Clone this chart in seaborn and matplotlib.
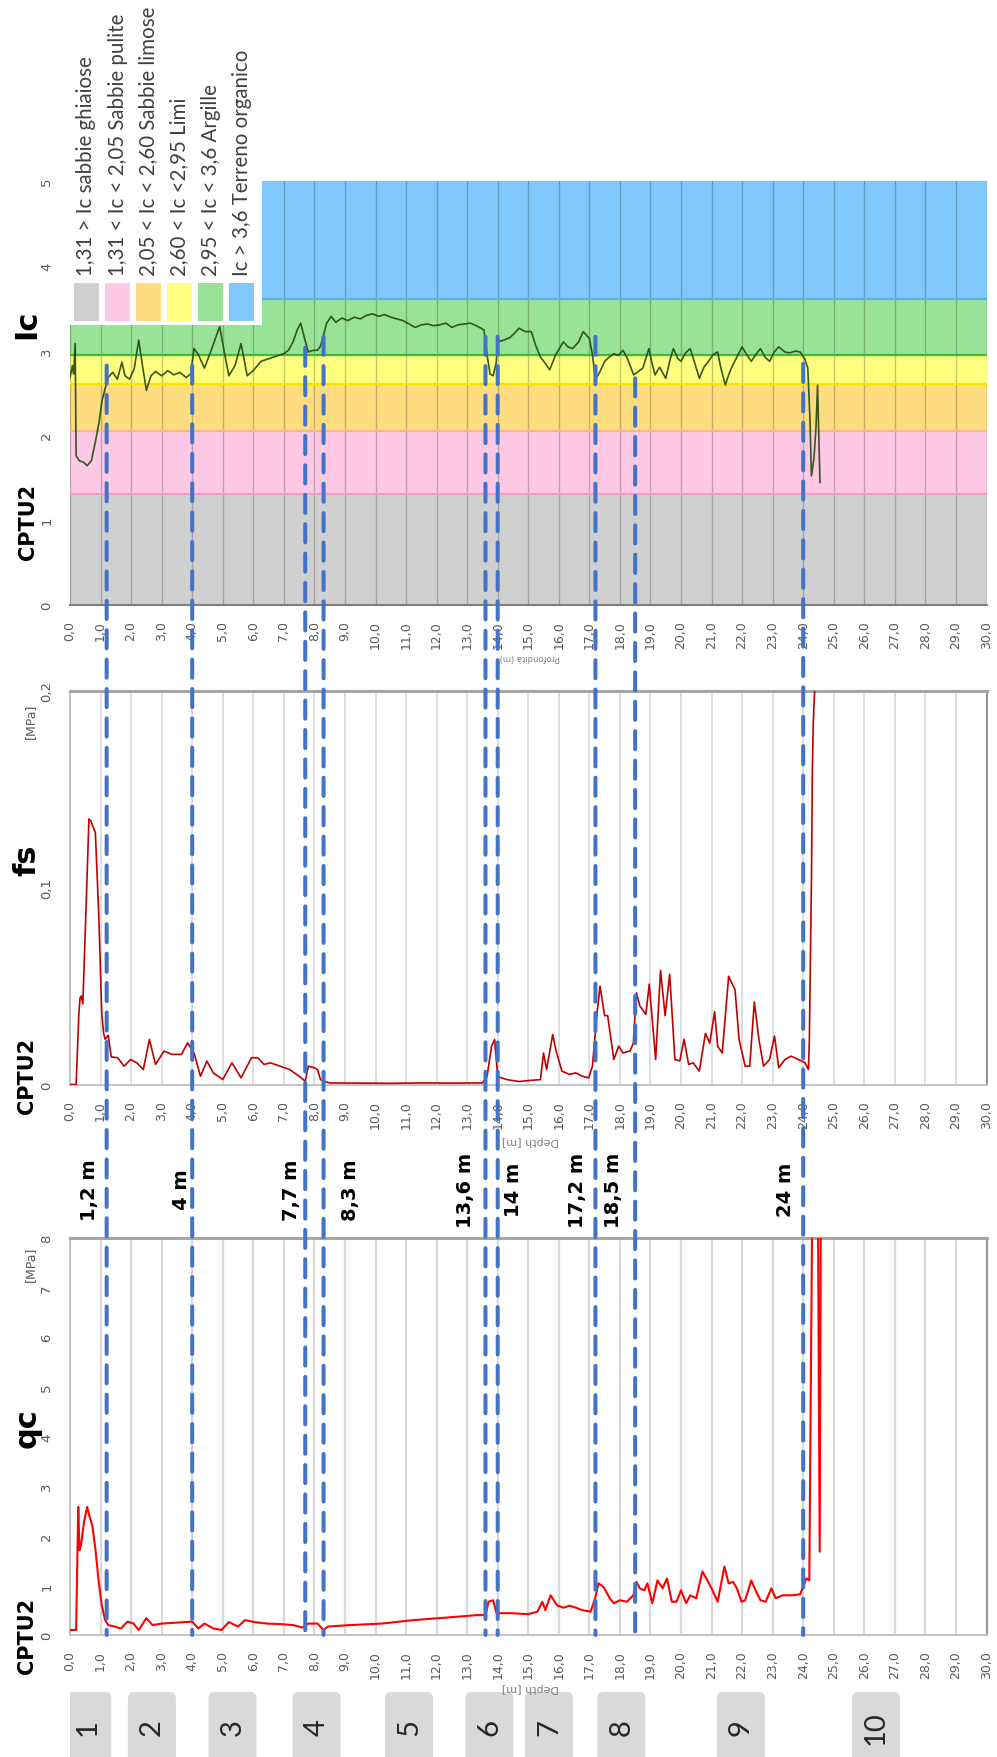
import numpy as np
import matplotlib
matplotlib.use("Agg")
import matplotlib.pyplot as plt
import seaborn as sns
from matplotlib.patches import Rectangle, FancyBboxPatch, ConnectionPatch

# ---------------------------------------------------------------- data
# Behaviour index Ic (CPTU2)
ic_depth = [0.0, 0.08, 0.12, 0.17, 0.2, 0.3, 0.45, 0.56, 0.7, 0.83, 0.95, 1.04, 1.15, 1.25,
            1.4, 1.55, 1.7, 1.8, 1.95, 2.1, 2.25, 2.38, 2.5, 2.65, 2.8, 3.0, 3.2, 3.4, 3.6,
            3.8, 3.95, 4.06, 4.2, 4.4, 4.6, 4.9, 5.05, 5.2, 5.4, 5.6, 5.8, 6.0, 6.25, 6.5,
            6.75, 7.0, 7.15, 7.3, 7.45, 7.55, 7.65, 7.8, 7.95, 8.1, 8.2, 8.3, 8.4, 8.55,
            8.7, 8.9, 9.1, 9.3, 9.5, 9.7, 9.9, 10.1, 10.3, 10.5, 10.7, 10.9, 11.1, 11.3,
            11.5, 11.7, 11.9, 12.1, 12.3, 12.5, 12.7, 12.9, 13.1, 13.3, 13.5, 13.55, 13.65,
            13.75, 13.85, 13.95, 14.0, 14.2, 14.4, 14.55, 14.7, 14.9, 15.1, 15.25, 15.4,
            15.55, 15.7, 15.9, 16.15, 16.3, 16.45, 16.65, 16.8, 17.0, 17.1, 17.2, 17.35,
            17.5, 17.65, 17.8, 17.95, 18.1, 18.25, 18.45, 18.6, 18.75, 18.95, 19.05, 19.15,
            19.3, 19.5, 19.65, 19.75, 19.9, 20.0, 20.15, 20.3, 20.45, 20.6, 20.75, 20.9,
            21.05, 21.2, 21.3, 21.45, 21.55, 21.65, 21.8, 22.0, 22.15, 22.3, 22.45, 22.6,
            22.75, 22.9, 23.05, 23.2, 23.4, 23.55, 23.75, 23.9, 24.05, 24.15, 24.22, 24.27,
            24.35, 24.42, 24.47, 24.55]
ic_value = [2.68, 2.82, 2.72, 3.08, 1.76, 1.70, 1.68, 1.64, 1.70, 1.92, 2.15, 2.39, 2.55, 2.68,
            2.74, 2.66, 2.86, 2.70, 2.66, 2.78, 3.12, 2.80, 2.53, 2.70, 2.75, 2.70, 2.76, 2.71,
            2.74, 2.68, 2.72, 3.02, 2.95, 2.79, 2.98, 3.28, 2.98, 2.70, 2.82, 3.08, 2.70, 2.76,
            2.87, 2.90, 2.93, 2.96, 3.00, 3.10, 3.25, 3.32, 3.18, 2.98, 3.00, 3.00, 3.05, 3.18,
            3.32, 3.40, 3.33, 3.38, 3.35, 3.39, 3.37, 3.41, 3.43, 3.40, 3.42, 3.39, 3.37, 3.35,
            3.31, 3.27, 3.30, 3.31, 3.29, 3.30, 3.32, 3.27, 3.30, 3.31, 3.32, 3.29, 3.25, 3.24,
            2.95, 2.72, 2.70, 2.85, 3.10, 3.12, 3.15, 3.20, 3.26, 3.22, 3.22, 3.05, 2.92, 2.85,
            2.77, 2.95, 3.10, 3.04, 3.02, 3.10, 3.22, 3.14, 2.95, 2.66, 2.75, 2.87, 2.92, 2.96,
            2.94, 3.00, 2.90, 2.71, 2.75, 2.79, 3.02, 2.85, 2.71, 2.80, 2.67, 2.90, 3.02, 2.90,
            2.87, 2.97, 3.02, 2.85, 2.67, 2.80, 2.87, 2.95, 2.98, 2.80, 2.59, 2.70, 2.79, 2.90,
            3.04, 2.95, 2.87, 2.95, 3.02, 2.92, 2.87, 2.98, 3.04, 2.98, 2.97, 2.99, 2.98, 2.90,
            2.79, 2.20, 1.52, 1.72, 2.10, 2.59, 1.44]

# Sleeve friction fs [MPa]
fs_depth = [0.0, 0.2, 0.29, 0.33, 0.37, 0.42, 0.52, 0.62, 0.68, 0.73, 0.83, 0.94, 1.04, 1.1,
            1.15, 1.25, 1.35, 1.56, 1.77, 1.98, 2.19, 2.4, 2.6, 2.8, 3.08, 3.33, 3.65, 3.85,
            4.06, 4.27, 4.48, 4.69, 5.0, 5.3, 5.6, 5.94, 6.15, 6.35, 6.56, 6.88, 7.19, 7.5,
            7.7, 7.8, 8.0, 8.1, 8.2, 8.3, 8.5, 9.5, 10.5, 11.5, 12.5, 13.5, 13.65, 13.8, 13.9,
            14.0, 14.3, 14.7, 15.0, 15.4, 15.5, 15.6, 15.8, 15.9, 16.1, 16.35, 16.55, 16.77,
            16.98, 17.1, 17.25, 17.35, 17.5, 17.6, 17.8, 17.96, 18.1, 18.33, 18.44, 18.54,
            18.65, 18.85, 18.96, 19.17, 19.33, 19.48, 19.63, 19.8, 19.96, 20.1, 20.25, 20.4,
            20.6, 20.8, 20.94, 21.1, 21.2, 21.35, 21.56, 21.77, 21.9, 22.1, 22.25, 22.4, 22.55,
            22.7, 22.9, 23.06, 23.2, 23.4, 23.6, 23.85, 24.06, 24.17, 24.2, 24.27, 24.3, 24.33,
            24.4]
fs_value = [0.0, 0.0, 0.036, 0.044, 0.045, 0.041, 0.087, 0.135, 0.134, 0.132, 0.128, 0.087,
            0.036, 0.026, 0.023, 0.025, 0.014, 0.0136, 0.0093, 0.0127, 0.011, 0.0076, 0.0229,
            0.0102, 0.017, 0.0153, 0.0153, 0.0212, 0.016, 0.0042, 0.0119, 0.0059, 0.0025,
            0.011, 0.0034, 0.0136, 0.0136, 0.0102, 0.011, 0.0093, 0.0076, 0.0042, 0.0017,
            0.0093, 0.0085, 0.0076, 0.0025, 0.0017, 0.0008, 0.0007, 0.0006, 0.0008, 0.0007,
            0.0008, 0.004, 0.0195, 0.0229, 0.004, 0.0025, 0.0015, 0.002, 0.0025, 0.016, 0.0076,
            0.0254, 0.0178, 0.0068, 0.0051, 0.0059, 0.0042, 0.0034, 0.0093, 0.036, 0.05, 0.035,
            0.035, 0.0127, 0.0195, 0.016, 0.017, 0.021, 0.0466, 0.04, 0.0356, 0.051, 0.0127,
            0.058, 0.035, 0.056, 0.0127, 0.012, 0.023, 0.0102, 0.011, 0.0068, 0.026, 0.021,
            0.037, 0.0195, 0.016, 0.055, 0.048, 0.023, 0.0093, 0.0093, 0.042, 0.023, 0.0093,
            0.0127, 0.0246, 0.0085, 0.0127, 0.0144, 0.0127, 0.011, 0.0076, 0.021, 0.104, 0.16,
            0.184, 0.21]

# Cone resistance qc [MPa]
qc_depth = [0.0, 0.2, 0.27, 0.31, 0.36, 0.46, 0.56, 0.67, 0.73, 0.83, 0.94, 1.04, 1.15, 1.25,
            1.46, 1.67, 1.88, 2.08, 2.25, 2.5, 2.7, 3.0, 3.5, 4.0, 4.2, 4.4, 4.7, 4.96, 5.2,
            5.5, 5.73, 6.04, 6.46, 6.88, 7.3, 7.6, 7.8, 8.1, 8.3, 8.44, 9.17, 10.2, 11.25,
            12.3, 13.3, 13.6, 13.7, 13.85, 13.96, 14.4, 15.0, 15.3, 15.46, 15.56, 15.73, 15.94,
            16.15, 16.35, 16.56, 16.77, 17.04, 17.19, 17.3, 17.46, 17.67, 17.8, 18.0, 18.23,
            18.44, 18.54, 18.65, 18.8, 18.9, 19.06, 19.23, 19.4, 19.54, 19.7, 19.85, 20.0,
            20.17, 20.3, 20.5, 20.7, 20.83, 21.0, 21.2, 21.42, 21.56, 21.7, 21.83, 21.98, 22.1,
            22.3, 22.46, 22.6, 22.77, 22.96, 23.1, 23.33, 23.65, 23.9, 24.02, 24.1, 24.2, 24.3,
            24.48, 24.54, 24.58]
qc_value = [0.1, 0.1, 2.58, 1.71, 1.81, 2.28, 2.58, 2.32, 2.21, 1.74, 1.07, 0.6, 0.3, 0.2,
            0.17, 0.13, 0.27, 0.23, 0.1, 0.34, 0.2, 0.23, 0.25, 0.27, 0.13, 0.23, 0.13, 0.1,
            0.26, 0.17, 0.3, 0.26, 0.23, 0.22, 0.2, 0.15, 0.23, 0.23, 0.1, 0.17, 0.2, 0.23,
            0.3, 0.35, 0.4, 0.4, 0.67, 0.7, 0.44, 0.44, 0.42, 0.47, 0.67, 0.5, 0.8, 0.6, 0.55,
            0.59, 0.55, 0.5, 0.47, 0.74, 1.04, 0.97, 0.74, 0.64, 0.7, 0.67, 0.8, 1.07, 0.94,
            0.9, 1.04, 0.64, 1.1, 0.94, 1.14, 0.67, 0.67, 0.9, 0.64, 0.8, 0.74, 1.28, 1.14,
            0.94, 0.67, 1.38, 1.04, 1.07, 0.94, 0.67, 0.7, 1.1, 0.87, 0.7, 0.67, 0.94, 0.74,
            0.8, 0.8, 0.82, 1.0, 1.14, 1.1, 9.0, 9.0, 1.68, 9.0]

# Ic soil classes
ic_bounds = [0.0, 1.31, 2.05, 2.60, 2.95, 3.6, 5.0]
class_labels = ["1,31 > Ic sabbie ghiaiose",
                "1,31 < Ic < 2,05 Sabbie pulite",
                "2,05 < Ic < 2,60 Sabbie limose",
                "2,60 < Ic <2,95 Limi",
                "2,95 < Ic < 3,6 Argille",
                "Ic > 3,6 Terreno organico"]
class_fill = ["#d0d0d0", "#fdc9e5", "#fedc80", "#ffff80", "#99e399", "#80c9fd"]
class_edge = [None, "#f59cc8", "#f6b98c", "#f3e600", "#3dba3d", "#5eaee6"]

# stratigraphic boundaries [m] and the Ic level where each marker starts
boundary_depth = [1.2, 4.0, 7.7, 8.3, 13.6, 14.0, 17.2, 18.5, 24.0]
boundary_label = ["1,2 m", "4 m", "7,7 m", "8,3 m", "13,6 m", "14 m", "17,2 m", "18,5 m", "24 m"]
boundary_top_ic = [2.82, 2.82, 3.03, 3.16, 3.16, 3.16, 3.16, 2.67, 2.84]
label_shift_px = [-17, -11, -14, 27, -20, 16, -18, -22, -18]

# geotechnical units
unit_label = ["1", "2", "3", "4", "5", "6", "7", "8", "9", "10"]
unit_centre = [0.57, 2.68, 5.32, 8.07, 11.1, 13.73, 15.68, 18.05, 21.96, 26.38]

depth_ticks = list(range(0, 31))
depth_tick_labels = [f"{d},0" for d in depth_ticks]

# ---------------------------------------------------------------- layout
W, H = 997, 1758
sns.set_theme(style="white")
plt.rcParams["font.family"] = ["DejaVu Sans"]
fig = plt.figure(figsize=(W / 100, H / 100), dpi=100)

X0, X1 = 70, 986.5
PX_PER_M = (X1 - X0) / 30.0
TICK_GREY = "#595959"
BORDER = "#bfbfbf"


def fx(px):
    return px / W


def fy(py):
    return 1 - py / H


def panel(top, bottom):
    return fig.add_axes([fx(X0), fy(bottom), (X1 - X0) / W, (bottom - top) / H])


ax_ic = panel(181.5, 606)
ax_fs = panel(692, 1085.5)
ax_qc = panel(1239, 1636)


def depth_axis(ax):
    ax.set_xlim(0, 30)
    ax.set_xticks(depth_ticks)
    ax.set_xticklabels(depth_tick_labels, rotation=90)
    ax.tick_params(axis="x", length=0, pad=11, labelsize=9, labelcolor=TICK_GREY)
    ax.tick_params(axis="y", direction="in", length=4, width=1, color="#808080",
                   pad=12, labelsize=9.5, labelcolor=TICK_GREY)


# ---------------------------------------------------------------- Ic panel
depth_axis(ax_ic)
ax_ic.set_ylim(0, 5)
for lo, hi, fc in zip(ic_bounds[:-1], ic_bounds[1:], class_fill):
    ax_ic.fill_between([0, 30], lo, hi, color=fc, lw=0, zorder=0)
for lo, ec in zip(ic_bounds[:-1], class_edge):
    if ec:
        ax_ic.axhline(lo, color=ec, lw=1.6, zorder=0.6)
ax_ic.grid(axis="x", color="black", alpha=0.22, lw=1)
ax_ic.grid(axis="y", visible=False)
sns.lineplot(x=ic_depth, y=ic_value, ax=ax_ic, color="#22470f", lw=1.2, alpha=0.9,
             estimator=None, sort=False, zorder=3)
ax_ic.set_yticks(range(6))
ax_ic.set_yticklabels([str(v) for v in range(6)], rotation=90, va="center")
ax_ic.tick_params(axis="y", length=0)
for s in ["top", "right", "left"]:
    ax_ic.spines[s].set_visible(False)
ax_ic.spines["bottom"].set_color("#7f7f7f")
ax_ic.spines["bottom"].set_linewidth(1.5)
ax_ic.set_xlabel("")
ax_ic.set_ylabel("")

# legend block (white panel with rotated class captions)
legend_right_px = 262
legend_bottom_px = 326
leg_x1 = (legend_right_px - X0) / (X1 - X0)
leg_y0 = (606 - legend_bottom_px) / (606 - 181.5)
ax_ic.add_patch(Rectangle((0, leg_y0), leg_x1, 1.6 - leg_y0, transform=ax_ic.transAxes,
                          facecolor="white", edgecolor="none", zorder=5, clip_on=False))
for i, (lab, fc) in enumerate(zip(class_labels, class_fill)):
    left = 74 + 31 * i
    fig.patches.append(Rectangle((fx(left), fy(322)), 25 / W, 38 / H, facecolor=fc,
                                 edgecolor="none", transform=fig.transFigure, figure=fig))
    fig.text(fx(left + 12.5), fy(276), lab, rotation=90, ha="center", va="bottom",
             fontsize=14.8, color="#404040", family=["Lato", "DejaVu Sans"])

# ---------------------------------------------------------------- fs panel
depth_axis(ax_fs)
ax_fs.set_ylim(0, 0.2)
ax_fs.grid(axis="x", color="#d9d9d9", lw=1.2)
ax_fs.grid(axis="y", visible=False)
sns.lineplot(x=fs_depth, y=fs_value, ax=ax_fs, color="#c00000", lw=1.2,
             estimator=None, sort=False, zorder=3)
ax_fs.set_yticks([0, 0.1, 0.2])
ax_fs.set_yticklabels(["0", "0,1", "0,2"], rotation=90, va="center")

# ---------------------------------------------------------------- qc panel
depth_axis(ax_qc)
ax_qc.set_ylim(0, 8)
ax_qc.grid(axis="x", color="#d9d9d9", lw=1.6)
ax_qc.grid(axis="y", visible=False)
sns.lineplot(x=qc_depth, y=qc_value, ax=ax_qc, color="#ff0000", lw=1.5,
             estimator=None, sort=False, zorder=3)
ax_qc.set_yticks(range(9))
ax_qc.set_yticklabels([str(v) for v in range(9)], rotation=90, va="center")

for ax in (ax_fs, ax_qc):
    ax.set_xlabel("")
    ax.set_ylabel("")
    for s in ax.spines.values():
        s.set_visible(True)
        s.set_color(BORDER)
        s.set_linewidth(1.3)
    ax.spines["top"].set_color("#a6a6a6")
    ax.spines["top"].set_linewidth(2.2)
    ax.spines["right"].set_color("#8c8c8c")

# ---------------------------------------------------------------- titles
bold = dict(rotation=90, ha="center", va="center", fontweight="bold", color="black")
fig.text(fx(27), fy(324), "Ic", fontsize=22, **bold)
fig.text(fx(28), fy(522), "CPTU2", fontsize=15, **bold)
fig.text(fx(27), fy(860), "fs", fontsize=22, **bold)
fig.text(fx(27), fy(1076), "CPTU2", fontsize=15, **bold)
fig.text(fx(27), fy(1428), "qc", fontsize=22, **bold)
fig.text(fx(27), fy(1636), "CPTU2", fontsize=15, **bold)

unit_kw = dict(rotation=90, ha="center", va="center", fontsize=9, color=TICK_GREY)
fig.text(fx(30), fy(721), "[MPa]", **unit_kw)
fig.text(fx(30), fy(1264), "[MPa]", **unit_kw)

axis_name = dict(rotation=180, ha="center", va="center", color="#7f7f7f")
fig.text(fx(530), fy(658), "Profondità (m)", fontsize=6, **axis_name)
fig.text(fx(530), fy(1141), "Depth [m]", fontsize=8, **axis_name)
fig.text(fx(530), fy(1688), "Depth [m]", fontsize=8, **axis_name)

# ---------------------------------------------------------------- boundary markers
for d, top, lab, dx in zip(boundary_depth, boundary_top_ic, boundary_label, label_shift_px):
    con = ConnectionPatch(xyA=(d, top), coordsA=ax_ic.transData,
                          xyB=(d, 0), coordsB=ax_qc.transData,
                          color="#4472c4", lw=2.9, linestyle=(0, (4.5, 2.8)), zorder=6)
    fig.add_artist(con)
    ax_qc.annotate(lab, xy=(d, 8), xycoords="data",
                   xytext=(dx * 0.72, 49 * 0.72), textcoords="offset points",
                   rotation=90, ha="center", va="center", fontsize=14,
                   fontweight="bold", color="black", annotation_clip=False)

# ---------------------------------------------------------------- unit boxes
ax_u = fig.add_axes([fx(X0), 0, (X1 - X0) / W, 65 / H])
ax_u.set_xlim(0, 30)
ax_u.set_ylim(65 / PX_PER_M, 0)
ax_u.axis("off")
box_w = 48 / PX_PER_M
for c, lab in zip(unit_centre, unit_label):
    ax_u.add_patch(FancyBboxPatch((c - box_w / 2, 0), box_w, 4.0,
                                  boxstyle="round,pad=0,rounding_size=0.2",
                                  facecolor="#d9d9d9", edgecolor="none"))
    ax_u.text(c, 35 / PX_PER_M, lab, rotation=90, ha="center", va="center",
              fontsize=21, color="#262626", family=["Lato", "DejaVu Sans"])

fig.savefig("out.png", dpi=100, facecolor="white")
